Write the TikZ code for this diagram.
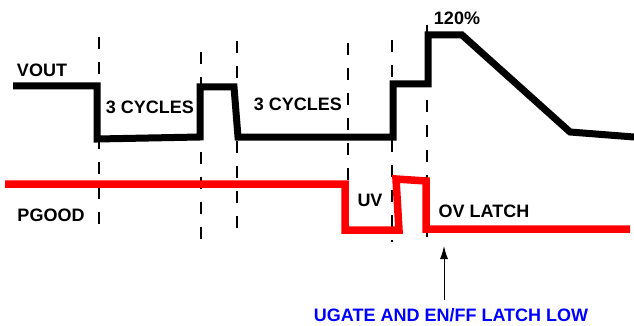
\documentclass[tikz,border=0pt]{standalone}
\usepackage{fontspec}
\setmainfont{Liberation Sans}
\usetikzlibrary{arrows.meta}

\begin{document}
\begin{tikzpicture}[x=1pt,y=-1pt,>={Latex[length=13pt,width=8pt]},
    lbl/.style={font=\fontsize{18}{20}\selectfont\bfseries,inner sep=0pt},
    wave/.style={line width=7pt},
    mark line/.style={line width=2.4pt,dash pattern=on 12pt off 13pt}]
  \useasboundingbox (0,0) rectangle (634,326);
  % time markers
  \draw[mark line] (99,37)  -- (99,228);
  \draw[mark line] (201,52) -- (201,245);
  \draw[mark line] (237,41) -- (237,233);
  \draw[mark line] (348,43) -- (348,233);
  \draw[mark line] (392,40) -- (392,242);
  \draw[mark line] (427,25) -- (427,243);
  % VOUT
  \draw[wave] (13,86) -- (97,86) -- (97,139) -- (200,137) -- (200,87)
    -- (234,87) -- (238,137) -- (393,137) -- (393,84) -- (428,84)
    -- (428,35) -- (462,35) -- (570,132) -- (634,137);
  % PGOOD
  \draw[wave,red,line width=7.5pt] (5,184) -- (345,184) -- (345,230)
    -- (399,230) -- (396,179) -- (426,181) -- (426,229) -- (630,229);
  % labels
  \node[lbl] (vout)  at (42,70)   {VOUT};
  \node[lbl] (cyc1)  at (150,107) {3 CYCLES};
  \node[lbl] (cyc2)  at (298,104) {3 CYCLES};
  \node[lbl] (peak)  at (457,18)  {120\%};
  \node[lbl] (pgood) at (51,215)  {PGOOD};
  \node[lbl] (uv)    at (370,200) {UV};
  \node[lbl] (ovl)   at (484,211) {OV LATCH};
  \node[lbl,blue] (ugate) at (451,315) {UGATE AND EN/FF LATCH LOW};
  \coordinate (tip)  at (444,246);
  \coordinate (tail) at (444,300);
  \draw[->,line width=1pt] (tail) -- (tip);
\end{tikzpicture}
\end{document}
